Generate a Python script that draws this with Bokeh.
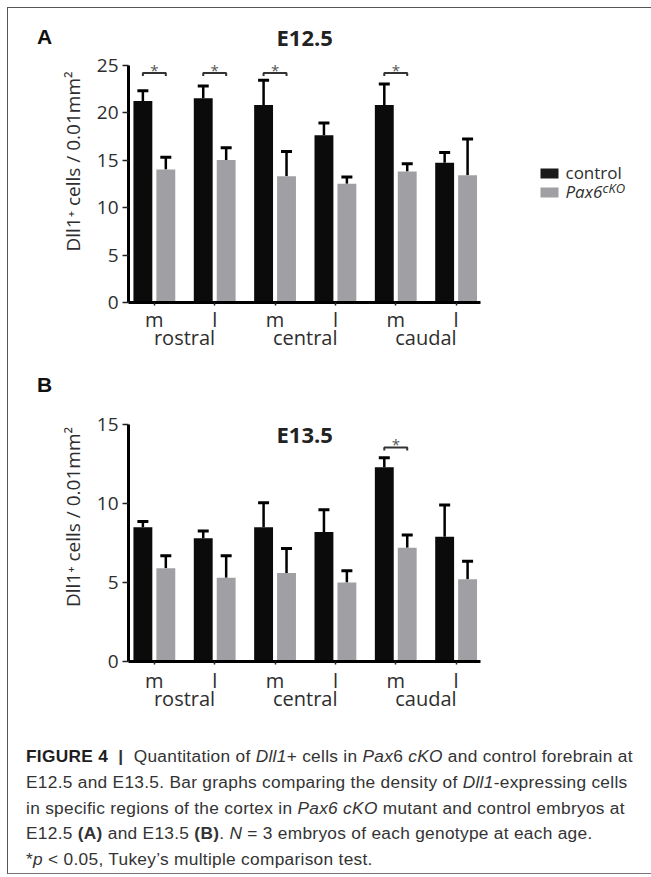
import numpy as np
from bokeh.plotting import figure
from bokeh.models import (Range1d, FixedTicker, LinearAxis, Whisker, TeeHead,
                          ColumnDataSource, Label, BoxAnnotation, Div)
from bokeh.layouts import column, row
from bokeh.core.properties import value
from bokeh.embed import file_html
from bokeh.resources import INLINE

# ---------------- data ----------------
regions = ["rostral", "central", "caudal"]
zones = ["m", "l"]
series = ["control", "Pax6", "cKO"]  # legend text pieces

e125_control = [21.2, 21.5, 20.8, 17.6, 20.8, 14.7]
e125_control_err = [1.1, 1.3, 2.6, 1.3, 2.2, 1.1]
e125_cko = [14.0, 15.0, 13.3, 12.5, 13.8, 13.4]
e125_cko_err = [1.3, 1.3, 2.6, 0.7, 0.8, 3.8]
e125_sig = [0, 1, 2, 4]          # bar pairs with * bracket
e125_sig_y = [24.15, 24.15, 24.15, 24.15]

e135_control = [8.5, 7.8, 8.5, 8.2, 12.3, 7.9]
e135_control_err = [0.36, 0.46, 1.55, 1.4, 0.6, 2.0]
e135_cko = [5.9, 5.3, 5.6, 5.0, 7.2, 5.2]
e135_cko_err = [0.8, 1.4, 1.55, 0.75, 0.8, 1.15]
e135_sig = [4]
e135_sig_y = [13.55]

y_ticks_a = [0, 5, 10, 15, 20, 25]
y_ticks_b = [0, 5, 10, 15]

# ---------------- style ----------------
FONT = "Open Sans"
BLACK = "#0b0b0b"
GRAY = "#a0a0a4"
TXT = "#2e2e2e"
PX = 60.7                 # pixels per bar pair
X0 = -26 / PX
FRAME_W = 525
X1 = X0 + FRAME_W / PX
OFF = 0.19
BW = 0.313
YLABEL = "Dll1\u207a cells / 0.01mm\u00b2"
LW = 48                   # width of the panel-letter column
FW = 643 - LW             # figure width


def panel(title, title_y, ctrl, ctrl_err, cko, cko_err, sig, sig_y,
          yticks, ppu, height, top, fh, std1, std2, legend):
    bottom = height - top - fh
    ymax = fh / ppu
    p = figure(width=FW, height=height, x_range=Range1d(X0, X1),
               y_range=Range1d(0, ymax), output_backend="svg",
               toolbar_location=None, min_border_left=69, min_border_right=1,
               min_border_top=top, min_border_bottom=bottom,
               background_fill_color="white", border_fill_color="white")
    p.outline_line_color = None
    p.xgrid.visible = False
    p.ygrid.visible = False

    n = len(regions) * len(zones)
    pos = np.arange(n, dtype=float)
    pc = pos - OFF
    pk = pos + OFF
    ctrl = np.array(ctrl); cko = np.array(cko)
    ctrl_err = np.array(ctrl_err); cko_err = np.array(cko_err)

    p.vbar(x=pc, top=ctrl, width=BW, fill_color=BLACK, line_color=None)
    p.vbar(x=pk, top=cko, width=BW, fill_color=GRAY, line_color=None)

    for xs, v, e in ((pc, ctrl, ctrl_err), (pk, cko, cko_err)):
        src = ColumnDataSource(dict(base=xs, lower=v, upper=v + e))
        p.add_layout(Whisker(source=src, base="base", lower="lower", upper="upper",
                             line_width=2.5, line_color="black",
                             upper_head=TeeHead(size=11, line_width=3, line_color="black"),
                             lower_head=None))

    # significance brackets
    drop = 3.0 / ppu
    sx = np.array(sig, dtype=float)
    sy = np.array(sig_y)
    xs = [[a - OFF, a - OFF, a + OFF, a + OFF] for a in sx]
    ys = [[b - drop, b, b, b - drop] for b in sy]
    p.multi_line(xs=xs, ys=ys, line_color="#333333", line_width=2)
    p.text(x=sx, y=sy, text=["*"] * len(sx), text_font=value(FONT),
           text_font_size="15px", text_align="center", text_baseline="alphabetic",
           y_offset=-3, text_color="#555555")

    # y axis
    ya = p.yaxis[0]
    ya.ticker = FixedTicker(ticks=yticks)
    ya.bounds = (0, yticks[-1])
    ya.axis_line_width = 3
    ya.axis_line_color = "black"
    ya.major_tick_out = 6
    ya.major_tick_in = 0
    ya.major_tick_line_width = 1.5
    ya.major_tick_line_color = "#222222"
    ya.minor_tick_line_color = None
    ya.major_label_text_font = FONT
    ya.major_label_text_font_size = "19px"
    ya.major_label_text_color = TXT
    ya.major_label_standoff = 4
    ya.axis_label = YLABEL
    ya.axis_label_text_font = FONT
    ya.axis_label_text_font_size = "19px"
    ya.axis_label_text_font_style = "normal"
    ya.axis_label_text_color = TXT
    ya.axis_label_standoff = 8

    # x axis: m / l
    xa = p.xaxis[0]
    xa.ticker = FixedTicker(ticks=list(pos))
    xa.major_label_overrides = {float(i): zones[i % 2] for i in range(n)}
    xa.bounds = (X0, 5.41)
    xa.axis_line_width = 3
    xa.axis_line_color = "black"
    xa.major_tick_out = 3
    xa.major_tick_in = 0
    xa.major_tick_line_width = 1.5
    xa.major_tick_line_color = "#222222"
    xa.minor_tick_line_color = None
    xa.major_label_text_font = FONT
    xa.major_label_text_font_size = "20px"
    xa.major_label_text_color = TXT
    xa.major_label_standoff = std1

    gpos = [2 * g + 0.5 for g in range(len(regions))]
    ga = LinearAxis(ticker=FixedTicker(ticks=gpos),
                    major_label_overrides={float(g): r for g, r in zip(gpos, regions)},
                    axis_line_color=None, major_tick_line_color=None,
                    minor_tick_line_color=None, major_label_text_font=FONT,
                    major_label_text_font_size="20px", major_label_text_color=TXT,
                    major_label_standoff=std2)
    p.add_layout(ga, "below")

    # title (screen units from frame bottom-left)
    p.add_layout(Label(x=148, y=title_y, x_units="screen", y_units="screen",
                       text=title, text_font=FONT, text_font_style="bold",
                       text_font_size="22px", text_baseline="middle",
                       text_color="#222222"))

    if legend:
        p.add_layout(BoxAnnotation(left=412, right=430, bottom=124, top=134,
                                   left_units="screen", right_units="screen",
                                   bottom_units="screen", top_units="screen",
                                   fill_color="#1a1a1a", fill_alpha=1, line_color=None))
        p.add_layout(BoxAnnotation(left=412, right=430, bottom=105, top=115,
                                   left_units="screen", right_units="screen",
                                   bottom_units="screen", top_units="screen",
                                   fill_color=GRAY, fill_alpha=1, line_color=None))
        p.add_layout(Label(x=437, y=130.5, x_units="screen", y_units="screen",
                           text=series[0], text_font=FONT, text_font_size="17px",
                           text_baseline="middle", text_color=TXT))
        p.add_layout(Label(x=437, y=111, x_units="screen", y_units="screen",
                           text=series[1], text_font=FONT, text_font_size="17px",
                           text_font_style="italic", text_baseline="middle",
                           text_color=TXT))
        p.add_layout(Label(x=474, y=115, x_units="screen", y_units="screen",
                           text=series[2], text_font=FONT, text_font_size="13px",
                           text_font_style="italic", text_baseline="middle",
                           text_color=TXT))
    return p


def letter_div(letter, height, pad_top):
    return Div(text=("<div style=\"font-family:'Liberation Sans',Arial,sans-serif;"
                     "font-weight:bold;font-size:21px;line-height:21px;color:#111111;"
                     f"padding:{pad_top}px 0 0 29px;\">{letter}</div>"),
               width=LW, height=height, margin=0)


pA = panel("E12.5", 265.5, e125_control, e125_control_err, e125_cko, e125_cko_err,
           e125_sig, e125_sig_y, y_ticks_a, 9.5, 350, 12, 282, 0, -18, True)
pB = panel("E13.5", 228, e135_control, e135_control_err, e135_cko, e135_cko_err,
           e135_sig, e135_sig_y, y_ticks_b, 15.8, 364, 14, 289, 2, -18, False)

rowA = row(letter_div("A", 350, 18), pA, spacing=0, margin=0)
rowB = row(letter_div("B", 364, 16), pB, spacing=0, margin=0)

caption_lines = [
    "<b style='color:#1e1e1e'>FIGURE 4</b>&nbsp;&nbsp;<b>|</b>&nbsp;&nbsp;Quantitation of <i>Dll1</i>+ cells in <i>Pax</i>6 <i>cKO</i> and control forebrain at",
    "E12.5 and E13.5. Bar graphs comparing the density of <i>Dll1</i>-expressing cells",
    "in specific regions of the cortex in <i>Pax6 cKO</i> mutant and control embryos at",
    "E12.5 <b>(A)</b> and E13.5 <b>(B)</b>. <i>N</i> = 3 embryos of each genotype at each age.",
    "*<i>p</i> &lt; 0.05, Tukey\u2019s multiple comparison test.",
]
cap = Div(text=("<div style=\"font-family:'Liberation Sans',Arial,sans-serif;"
                "font-size:17.3px;letter-spacing:0.3px;line-height:25.8px;color:#333333;"
                "padding:22px 0 0 18px;white-space:nowrap;\">"
                + "<br>".join(caption_lines) + "</div>"),
          width=643, height=151, margin=0)

layout = column(rowA, rowB, cap, spacing=0, margin=(7, 0, 0, 7),
                styles={"border-left": "1px solid #555555",
                        "border-top": "1px solid #555555",
                        "border-bottom": "1px solid #777777"})

open("out.html", "w").write(file_html(layout, INLINE))
